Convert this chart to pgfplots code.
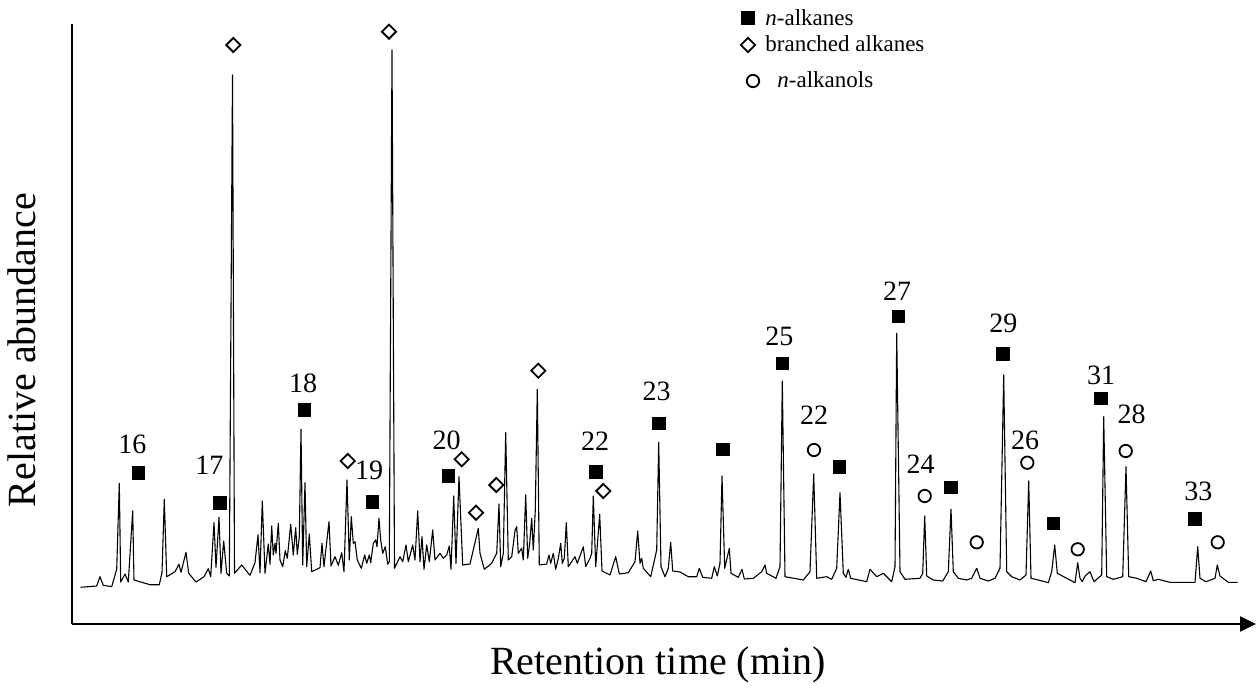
\documentclass[border=0pt]{standalone}
\usepackage{fontspec}
\setmainfont{Liberation Serif}
\usepackage{pgfplots}
\pgfplotsset{compat=1.18}
\usetikzlibrary{arrows.meta}

\begin{document}
\begin{tikzpicture}
\begin{axis}[
  x=0.5pt, y=0.5pt,
  xmin=0, xmax=1259, ymin=0, ymax=684,
  y dir=reverse,
  hide axis,
  clip=false,
]
% page frame (pixel grid of the reference)
\addplot[draw=none] coordinates {(0,0) (1259,684)};

% axes
\draw[line width=1pt] (axis cs:72,24) -- (axis cs:72,624);
\draw[line width=1pt, -{Triangle[length=8pt,width=7.5pt]}] (axis cs:71.5,624) -- (axis cs:1256,624);

% chromatogram trace
\addplot[black, line width=0.55pt, line join=round] coordinates {
(80.7,587.3) (96.7,586) (100,576.7) (103.3,585.3) (111.7,586.7) (116.7,569.3) (119.3,483.3) (120.7,582)
(125,574) (128.3,582) (132.7,511) (134,580) (150,584.7) (159.3,584.7) (162,572.7) (164.3,499.3)
(166.7,576.7) (175,571.7) (179,564.3) (181,572.3) (186,552.3) (188.7,573.3) (196,582) (204,576.7)
(208.3,568.7) (210.7,576.7) (214,522.7) (216,567.3) (219,517.3) (221,573.3) (223.7,541) (226.7,573.3)
(229.3,576) (232.5,75) (234.5,573.3)
(241.7,565) (250,575.3) (255,562.7) (258,534.7) (260,572.7) (262.3,501) (265,573.3) (268.3,544)
(270,564.3) (271.7,526) (273.3,555) (275,543.3) (276,553.3) (278.3,523.3) (280,560) (282.7,566.7)
(285.3,550.7) (287.3,558.3) (290.7,524.3) (293.3,555) (295.7,527.7) (297.3,554.3) (299.3,536.7) (301,429.3)
(302.7,565) (305,482.7) (306.7,566.7) (309.3,534) (311.7,571.7) (320,567.7) (322,543.3) (324,566.7)
(329,521.7) (331,566) (335,556.7) (338.3,565.3) (341.7,552.7) (344,571.7) (347,480) (349.3,560)
(351.3,516.7) (353.3,543.3) (355,541.7) (357.3,560) (361.3,568.3) (364.7,555) (366.7,563.3) (369.3,555)
(370.7,562.7) (373.3,543.3) (375.7,540) (377,546.7) (379,518.3) (380.7,540) (382.7,553.3) (385.3,546.7)
(387.7,564.3) (389.3,561.7) (392,50) (394.5,568.3)
(400,556.7) (402.7,561.7) (406,545) (408.3,561.7) (412.7,545) (415,560) (417.7,511) (420,561.7)
(422,536.7) (424,569.3) (426.7,545) (429.3,561.7) (432.7,530) (435,560) (440,553.3) (443.3,558.3)
(446.7,555) (449.3,546) (451,569.3) (453.7,496) (456,563.3) (459,476.7) (462.7,565) (470,564)
(478.3,528.3) (480,553.3) (484.3,569.3) (491.7,563.3) (496.7,553.3) (499,504) (500.7,566.7) (503.3,553.3)
(505.7,432.7) (508.3,560) (511.7,556.7) (515,530.7) (516.7,526.7) (518.3,553.3) (521.7,548.3) (523.3,560)
(525.7,495) (527.7,558.3) (529.7,543.3) (531.7,518.3) (533.3,550) (535.3,510) (537.3,389.3) (539.3,565)
(546.7,564) (549,555) (550.7,563.3) (553.3,553.3) (555.7,569.3) (558.3,558.3) (560.7,543.3) (562.3,563.3)
(564.3,558.3) (566.3,522.7) (568.3,566.7) (575,556.7) (577.3,563.3)
(583.3,546.7) (585.7,566.7) (590,558.3) (591.7,553.3) (593.3,496) (595.7,566.7) (599.7,514.3) (602,571)
(610,575) (615.7,556.7) (619.3,574) (628.3,572.7) (635,561.7) (637.7,531) (640,563.3) (641.7,558.3)
(643.3,568.3) (650.7,576.7) (656.7,550) (658.7,442.3) (661,566.7) (665,576.7) (668.3,568.3) (670.7,542.3)
(672.7,571) (680,572) (688.3,576.7) (696.7,576.7) (699.3,568.3) (702.7,577.3) (711.7,578.3) (714.3,566.7)
(717.3,576) (720,563.3) (722,476) (724.7,568.3) (729.3,548.3) (731,573.3) (738.3,577.3) (742,569.3)
(744.3,579)
(753.3,578.3) (761.7,571.7) (765,565) (766.7,573.3) (776,578.3) (780,566.7) (782.3,381) (785,576.7)
(803.3,580) (810,571.7) (813.7,474) (816.7,578.3) (826.7,576.7) (831.7,579.3) (836.7,568.3) (840,492.7)
(843.3,573.3) (846,577.3) (848.3,569.3) (850.7,578.3) (866.7,581.7) (870,569.3) (876.7,576.7) (883.3,573.3)
(891.7,581.7) (895,566.7) (896.7,333.3) (900,571.7) (905,579.3) (920,578.3) (922.7,573.3) (924.7,516)
(926.7,576)
(933.3,580) (942.7,581) (948.3,571.7) (951,509.3) (953.3,571.7) (958.3,578.3) (966.7,580) (971.7,578.3)
(976.7,568.3) (980,578.3) (988.3,581) (995,578.3) (1000,568.3) (1003.7,375) (1006.7,571.7) (1011.7,576.7)
(1020,580) (1026,575) (1028.7,481) (1031,578.3) (1038.3,580) (1048.3,582.7) (1051.7,571.7) (1054.7,545)
(1057.3,573.3) (1066.7,578.3) (1075,582.7) (1077.7,562.7) (1080,578.3) (1082.3,581.7) (1085,576) (1090,571.7)
(1094,581.7) (1101.7,575) (1103.7,416.7) (1106.7,576.7)
(1113.3,579.3) (1122.7,576.7) (1126,466.7) (1128.7,576.7) (1136.7,578.3) (1146,581.7) (1150.7,571) (1153.3,580.7)
(1158.3,579.3) (1170,582.3) (1195,582.3) (1197.7,546.7) (1200,578.3) (1206,581.7) (1215,578.3) (1217.3,565)
(1220,576) (1228.3,582.3) (1237.7,582.3)
};

% n-alkanes
\addplot[only marks, mark=square*, mark size=3.1pt, black] coordinates {
(138.3,472.7) (220,502.7) (304.3,410) (372.3,501.7) (448.3,476) (596,472) (659,423.3)
(722.7,449.3) (782.3,363.3) (839.3,466.7) (898.3,316.7) (950.7,487.3) (1003,354)
(1053.3,523.3) (1100.7,398.3) (1195,519) (748,18)
};
% branched alkanes
\addplot[only marks, mark=square, mark size=2.5pt, black,
  mark options={rotate=45, line width=0.9pt}] coordinates {
(233.3,45) (389,31.7) (347.7,461) (461.7,459.3) (476,512.7) (496.3,485) (538.3,370.7)
(603.3,491) (748,45)
};
% n-alkanols
\addplot[only marks, mark=o, mark size=3.1pt, black,
  mark options={line width=0.9pt}] coordinates {
(814,450) (924.7,496) (976.7,542.3) (1027.3,462.7) (1077.7,549.3) (1125.7,451)
(1217.7,542.3) (753,81)
};

% carbon numbers
\begin{scope}[every node/.style={font=\fontsize{14}{16}\selectfont, inner sep=0pt}]
\node at (axis cs:132.3,444) {16};
\node at (axis cs:209.3,465) {17};
\node at (axis cs:303,383) {18};
\node at (axis cs:369,470) {19};
\node at (axis cs:446.7,440) {20};
\node at (axis cs:595,441.7) {22};
\node at (axis cs:656.7,391.7) {23};
\node at (axis cs:779.3,336.7) {25};
\node at (axis cs:814,415) {22};
\node at (axis cs:897,291) {27};
\node at (axis cs:920.7,464.3) {24};
\node at (axis cs:1003.3,323.3) {29};
\node at (axis cs:1025,440) {26};
\node at (axis cs:1101,375) {31};
\node at (axis cs:1131.7,414.3) {28};
\node at (axis cs:1198.3,491.7) {33};
\end{scope}

% legend text
\begin{scope}[every node/.style={font=\fontsize{11.5}{13}\selectfont, anchor=west, inner sep=0pt}]
\node at (axis cs:765,18) {\textit{n}-alkanes};
\node at (axis cs:765,44) {branched alkanes};
\node at (axis cs:777,80) {\textit{n}-alkanols};
\end{scope}

% axis titles
\node[font=\fontsize{20}{22}\selectfont, rotate=90] at (axis cs:22,350) {Relative abundance};
\node[font=\fontsize{20}{22}\selectfont] at (axis cs:658,665) {Retention time (min)};
\end{axis}
\end{tikzpicture}
\end{document}
